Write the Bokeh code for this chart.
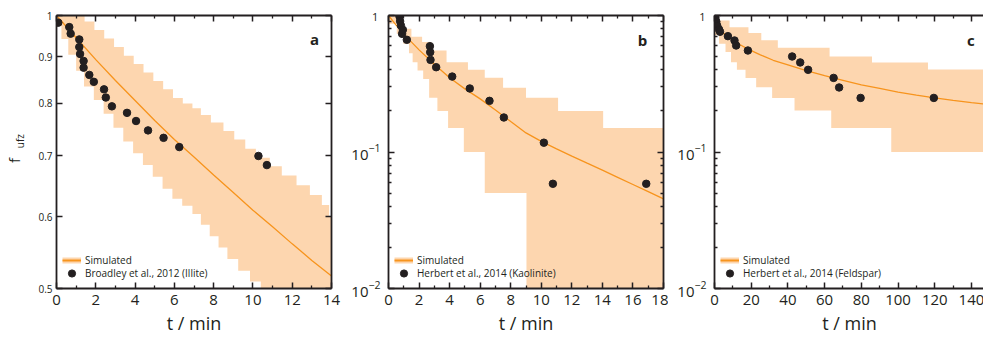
import math
from bokeh.plotting import figure
from bokeh.models import (Range1d, FixedTicker, LinearAxis, LogAxis, Legend, LegendItem,
                          Label, BasicTickFormatter, LogTickFormatter)
from bokeh.layouts import row
from bokeh.embed import file_html
from bokeh.resources import INLINE

# ---------------- data ----------------
# panel a : Broadley et al., 2012 (Illite)
a_dot_t = [0.09, 0.65, 0.72, 1.16, 1.16, 1.20, 1.38, 1.38, 1.67, 1.90, 2.42, 2.51, 2.82,
           3.59, 4.05, 4.66, 5.45, 6.25, 10.28, 10.71]
a_dot_f = [0.982, 0.971, 0.955, 0.941, 0.923, 0.907, 0.891, 0.876, 0.860, 0.845, 0.829,
           0.812, 0.794, 0.781, 0.765, 0.747, 0.733, 0.716, 0.700, 0.684]
a_sim_t = [0, 1, 2, 3, 4, 5, 6, 7, 8, 9, 10, 11, 12, 13, 14]
a_sim_f = [1.0, 0.945, 0.894, 0.848, 0.806, 0.766, 0.730, 0.698, 0.667, 0.638, 0.610,
           0.585, 0.560, 0.537, 0.516]
a_up_t = [0, 1.43, 1.93, 2.43, 2.93, 3.43, 3.93, 4.43, 4.93, 5.43, 5.93, 6.43, 6.92, 7.35,
          7.86, 8.50, 9.05, 9.61, 10.15, 10.86, 11.47, 12.22, 12.90, 13.51, 13.88, 14.0]
a_up_f = [1.0, 0.985, 0.964, 0.943, 0.923, 0.903, 0.884, 0.865, 0.847, 0.829, 0.811, 0.800,
          0.790, 0.777, 0.762, 0.746, 0.730, 0.713, 0.697, 0.682, 0.666, 0.650, 0.634,
          0.618, 0.601]
a_lo_t = [0, 0.25, 0.6, 1.0, 1.4, 1.9, 2.4, 2.9, 3.4, 3.9, 4.4, 4.9, 5.4, 5.9, 6.4, 6.92,
          7.35, 7.8, 8.25, 8.7, 9.25, 9.85, 10.4, 14.0]
a_lo_f = [0.975, 0.942, 0.905, 0.869, 0.835, 0.807, 0.779, 0.752, 0.726, 0.705, 0.684,
          0.664, 0.644, 0.628, 0.617, 0.604, 0.588, 0.571, 0.555, 0.539, 0.523, 0.509, 0.45]

# panel b : Herbert et al., 2014 (Kaolinite)
b_dot_t = [0.72, 0.76, 0.81, 0.89, 0.94, 1.20, 2.71, 2.73, 2.75, 3.12, 4.17, 5.32, 6.61,
           7.55, 10.17, 10.76, 16.87]
b_dot_f = [0.983, 0.909, 0.845, 0.734, 0.785, 0.664, 0.596, 0.539, 0.473, 0.418, 0.357,
           0.292, 0.237, 0.179, 0.117, 0.0585, 0.0585]
b_sim_t = [0, 0.5, 1, 2, 3, 4, 5, 6, 7, 8, 9, 10, 11, 12, 13, 14, 15, 16, 17, 18]
b_sim_f = [1.0, 0.85, 0.73, 0.56, 0.44, 0.35, 0.29, 0.245, 0.203, 0.167, 0.138, 0.1195,
           0.1055, 0.0933, 0.0828, 0.0736, 0.0652, 0.0578, 0.0512, 0.0453]
b_up_t = [0, 0.8, 1.5, 2.2, 2.8, 3.8, 5.2, 6.3, 7.5, 9.0, 11.1, 14.05, 18]
b_up_f = [1.0, 0.80, 0.70, 0.64, 0.554, 0.455, 0.40, 0.35, 0.295, 0.25, 0.20, 0.15]
b_lo_t = [0, 0.54, 0.97, 1.34, 1.58, 1.9, 2.27, 2.66, 3.2, 3.9, 4.93, 6.3, 9.03, 18]
b_lo_f = [0.87, 0.734, 0.62, 0.53, 0.455, 0.395, 0.343, 0.25, 0.20, 0.15, 0.10, 0.05, 0.001]

# panel c : Herbert et al., 2014 (Feldspar)
c_dot_t = [0.5, 1.0, 1.5, 2.5, 3.0, 7.3, 10.9, 11.8, 18.2, 42.3, 46.7, 51.0, 64.9, 67.9,
           79.6, 119.5]
c_dot_f = [0.96, 0.90, 0.84, 0.79, 0.76, 0.706, 0.656, 0.603, 0.554, 0.501, 0.453, 0.400,
           0.349, 0.297, 0.249, 0.249]
c_sim_t = [0, 0.5, 1.5, 3, 5, 7.5, 10, 14, 18, 25, 32, 40, 50, 60, 70, 80, 90, 100, 110,
           120, 130, 140, 150]
c_sim_f = [1.0, 0.93, 0.85, 0.79, 0.74, 0.70, 0.66, 0.61, 0.57, 0.515, 0.47, 0.435, 0.395,
           0.362, 0.335, 0.31, 0.292, 0.275, 0.261, 0.249, 0.239, 0.23, 0.222]
c_up_t = [0, 2, 8.2, 18.5, 25.5, 34.5, 62.7, 85.8, 116.3, 150]
c_up_f = [1.0, 0.92, 0.82, 0.745, 0.66, 0.58, 0.50, 0.452, 0.402]
c_lo_t = [0, 2.5, 6, 9, 12.2, 16.9, 22.7, 31.4, 43.6, 63.6, 96.3, 150]
c_lo_f = [0.72, 0.62, 0.54, 0.455, 0.40, 0.349, 0.298, 0.249, 0.201, 0.150, 0.10]

a_xticks = [0, 2, 4, 6, 8, 10, 12, 14]
a_xminor = [1, 3, 5, 7, 9, 11, 13]
a_yticks = [0.5, 0.6, 0.7, 0.8, 0.9, 1.0]
b_xticks = [0, 2, 4, 6, 8, 10, 12, 14, 16, 18]
b_xminor = [1, 3, 5, 7, 9, 11, 13, 15, 17]
c_xticks = [0, 20, 40, 60, 80, 100, 120, 140]
c_xminor = [10, 30, 50, 70, 90, 110, 130]
log_yticks = [0.01, 0.1, 1.0]
log_yminor = [0.02, 0.03, 0.04, 0.05, 0.06, 0.07, 0.08, 0.09,
              0.2, 0.3, 0.4, 0.5, 0.6, 0.7, 0.8, 0.9]

labels = {
    "a": "Broadley et al., 2012 (Illite)",
    "b": "Herbert et al., 2014 (Kaolinite)",
    "c": "Herbert et al., 2014 (Feldspar)",
}

FONT = "Open Sans"
INK = "#231f20"
ORANGE = "#f7941d"
BAND = "#fdd6af"
NAN = float("nan")


def band_polygon(up_t, up_f, lo_t, lo_f):
    xs, ys = [], []
    for i, v in enumerate(up_f):
        xs += [up_t[i], up_t[i + 1]]
        ys += [v, v]
    for i in range(len(lo_f) - 1, -1, -1):
        xs += [lo_t[i + 1], lo_t[i]]
        ys += [lo_f[i], lo_f[i]]
    return xs, ys


def style_axis(ax, size="15px", standoff=6):
    ax.axis_line_color = INK
    ax.axis_line_width = 1.8
    ax.major_tick_line_color = INK
    ax.major_tick_line_width = 1.5
    ax.minor_tick_line_color = INK
    ax.minor_tick_line_width = 1.3
    ax.major_tick_in = 6
    ax.major_tick_out = 0
    ax.minor_tick_in = 3
    ax.minor_tick_out = 0
    ax.major_label_text_font = FONT
    ax.major_label_text_color = INK
    ax.major_label_text_font_size = size
    ax.major_label_standoff = standoff


def hide_labels(ax, ticks):
    ax.major_label_overrides = {t: "" for t in ticks}
    ax.major_label_text_font_size = "1px"
    ax.major_label_text_color = None
    ax.major_label_standoff = 0


def legend_box(items, loc, gh):
    return Legend(items=items, location=loc, glyph_width=19, glyph_height=gh,
                  label_height=gh, label_standoff=4, spacing=0, padding=6, margin=0,
                  border_line_color=None, background_fill_alpha=0,
                  label_text_font=FONT, label_text_font_size="10px",
                  label_text_color=INK)


def make_panel(key, x_end, y_range, xt, xm, yt, ym, yfmt, ysize, ystand,
               bl, br, fw, dots, sim, band, letter_xy, one_xy, right_axis=True):
    p = figure(frame_width=fw, frame_height=273, x_range=Range1d(0, x_end),
               y_range=Range1d(*y_range), y_axis_type="log",
               output_backend="svg", toolbar_location=None,
               min_border_left=bl, min_border_right=br, min_border_top=15,
               min_border_bottom=0, outline_line_color=None,
               background_fill_color="white", border_fill_color="white")
    p.grid.visible = False

    xtick = FixedTicker(ticks=xt, minor_ticks=xm)
    ytick = FixedTicker(ticks=yt, minor_ticks=ym)

    bx = p.below[0]
    bx.ticker = xtick
    style_axis(bx, "15px", 6)
    bx.axis_label = "t / min"
    bx.axis_label_text_font = FONT
    bx.axis_label_text_font_size = "18px"
    bx.axis_label_text_font_style = "normal"
    bx.axis_label_text_color = INK
    bx.axis_label_standoff = 3

    ly = p.left[0]
    ly.ticker = ytick
    ly.formatter = yfmt
    ly.major_label_overrides = {1.0: "1" if one_xy is None else ""}
    style_axis(ly, ysize, ystand)

    top = LinearAxis(ticker=xtick)
    style_axis(top)
    hide_labels(top, xt)
    p.add_layout(top, "above")
    if right_axis:
        ry = LogAxis(ticker=ytick, formatter=BasicTickFormatter())
        style_axis(ry)
        hide_labels(ry, yt)
        p.add_layout(ry, "right")

    bxs, bys = band_polygon(*band)
    p.patch(bxs, bys, fill_color=BAND, line_color=None)
    p.line(sim[0], sim[1], line_color=ORANGE, line_width=1.3)
    r_dots = p.scatter(dots[0], dots[1], size=7.5, marker="circle",
                       fill_color=INK, line_color=INK)
    # legend-only swatch (band + line), nothing drawn in the frame
    r_sw = p.line(x=[NAN], y=[NAN], line_color=BAND, line_width=6)
    r_sw2 = p.line(x=[NAN], y=[NAN], line_color=ORANGE, line_width=2)

    p.add_layout(legend_box([LegendItem(label="Simulated", renderers=[r_sw, r_sw2])],
                            (6, 21), 14))
    p.add_layout(legend_box([LegendItem(label=labels[key], renderers=[r_dots])],
                            (6, 6), 18))

    p.add_layout(Label(x=letter_xy[0], y=letter_xy[1], text=key, text_font=FONT,
                       text_font_style="bold", text_font_size="15px",
                       text_align="center", text_baseline="alphabetic", text_color=INK))
    if one_xy is not None:
        # "1" tick label, smaller than the 10^n labels; lives in the left side panel
        p.add_layout(Label(x=one_xy[0], y=one_xy[1], text="1", text_font=FONT,
                           text_font_size="11px", text_align="right",
                           text_baseline="middle", text_color=INK), "left")
    return p


pa = make_panel("a", 14, (0.5, 1.0), a_xticks, a_xminor, a_yticks, [],
                BasicTickFormatter(), "10px", 4, 56, 11, 275,
                (a_dot_t, a_dot_f), (a_sim_t, a_sim_f),
                (a_up_t, a_up_f, a_lo_t, a_lo_f), (13.14, 0.941), None)
pb = make_panel("b", 18, (0.01, 1.0), b_xticks, b_xminor, log_yticks, log_yminor,
                LogTickFormatter(), "15px", 8, 46, 5, 275,
                (b_dot_t, b_dot_f), (b_sim_t, b_sim_f),
                (b_up_t, b_up_f, b_lo_t, b_lo_f), (16.62, 0.667), (-0.67, 0.983))
pc = make_panel("c", 147.1, (0.01, 1.0), c_xticks, c_xminor, log_yticks, log_yminor,
                LogTickFormatter(), "15px", 8, 45, 0, 270,
                (c_dot_t, c_dot_f), (c_sim_t, c_sim_f),
                (c_up_t, c_up_f, c_lo_t, c_lo_f), (139.7, 0.667), (-4.9, 0.983),
                right_axis=False)

# y axis title f_ufz on panel a (left side panel, so it is not clipped to the frame)
pa.add_layout(Label(x=-2.14, y=0.692, text="f", angle=math.pi / 2, text_font=FONT,
                    text_font_size="15px", text_align="center", text_baseline="middle",
                    text_line_height=1.0, text_color=INK), "left")
pa.add_layout(Label(x=-1.86, y=0.727, text="ufz", angle=math.pi / 2, text_font=FONT,
                    text_font_size="10px", text_align="center", text_baseline="middle",
                    text_line_height=1.0, text_color=INK), "left")

layout = row(pa, pb, pc, spacing=0)
open("out.html", "w").write(file_html(layout, INLINE))
